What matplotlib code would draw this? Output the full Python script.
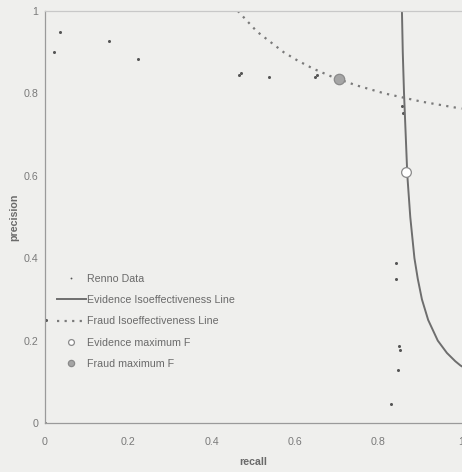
import matplotlib
matplotlib.use("Agg")
import matplotlib.pyplot as plt
import numpy as np

plt.rcParams['font.family'] = ['Liberation Sans', 'DejaVu Sans']

# Renno data (recall, precision)
renno_recall = [0.022, 0.036, 0.154, 0.224, 0.466, 0.470, 0.538, 0.648, 0.654,
                0.856, 0.859, 0.842, 0.843, 0.849, 0.852, 0.847, 0.830, 0.002, 0.0]
renno_precision = [0.901, 0.949, 0.927, 0.883, 0.845, 0.850, 0.839, 0.840, 0.845,
                   0.770, 0.752, 0.389, 0.350, 0.186, 0.177, 0.128, 0.046, 0.251, 0.0]

# isoeffectiveness curves
evid_recall = [0.857, 0.859, 0.862, 0.866, 0.870, 0.877, 0.887, 0.895, 0.905,
               0.920, 0.943, 0.965, 0.985, 0.997, 1.0]
evid_precision = [1.0, 0.9, 0.8, 0.7, 0.6, 0.5, 0.4, 0.35, 0.3,
                  0.25, 0.2, 0.17, 0.15, 0.14, 0.138]
fraud_recall = [0.463, 0.509, 0.573, 0.606, 0.644, 0.690, 0.746, 0.815, 0.904, 1.0]
fraud_precision = [1.0, 0.95, 0.9, 0.88, 0.86, 0.84, 0.82, 0.80, 0.78, 0.763]

# maximum F points
evid_max = (0.866, 0.61)
fraud_max = (0.705, 0.835)

ticks = [0, 0.2, 0.4, 0.6, 0.8, 1]
tick_labels = ['0', '0.2', '0.4', '0.6', '0.8', '1']

bg = '#efefed'
grey = '#6e6e6e'
fig = plt.figure(figsize=(4.62, 4.72), dpi=100, facecolor=bg)
ax = fig.add_axes([45 / 462, 49 / 472, 416.5 / 462, 412 / 472], facecolor=bg)

ax.plot(renno_recall, renno_precision, ls='none', marker='o', ms=2.2,
        color='#555555', mew=0, label='Renno Data')
ax.plot(evid_recall, evid_precision, color=grey, lw=1.4,
        label='Evidence Isoeffectiveness Line')
ax.plot(fraud_recall, fraud_precision, color='#7a7a7a', lw=1.6,
        ls=(0, (1, 2.4)), label='Fraud Isoeffectiveness Line')
ax.plot([evid_max[0]], [evid_max[1]], ls='none', marker='o', ms=7,
        mfc='white', mec='#8a8a8a', mew=0.9, label='Evidence maximum F')
ax.plot([fraud_max[0]], [fraud_max[1]], ls='none', marker='o', ms=7.5,
        mfc='#a5a5a5', mec='#8a8a8a', mew=0.9, label='Fraud maximum F')

ax.set_xlim(0, 1)
ax.set_ylim(0, 1)
ax.set_xticks(ticks)
ax.set_xticklabels(tick_labels)
ax.set_yticks(ticks)
ax.set_yticklabels(tick_labels)
ax.tick_params(length=0, labelsize=7.7, colors='#7a7a7a')
ax.tick_params(axis='x', pad=10)
ax.tick_params(axis='y', pad=5)

for s in ['left', 'bottom']:
    ax.spines[s].set_color('#9a9a9a')
    ax.spines[s].set_linewidth(0.9)
ax.spines['top'].set_color('#c8c8c8')
ax.spines['top'].set_linewidth(0.9)
ax.spines['right'].set_visible(False)

ax.set_xlabel('recall', fontsize=7.7, fontweight='bold', color='#6a6a6a', labelpad=7)
ax.set_ylabel('precision', fontsize=7.7, fontweight='bold', color='#6a6a6a', labelpad=3)

leg = ax.legend(loc='upper left', bbox_to_anchor=(0.005, 0.385), frameon=False,
                fontsize=7.7, handlelength=2.7, handletextpad=0.1,
                labelspacing=1.05, labelcolor='#6a6a6a', markerscale=0.6)

fig.savefig('out.png', dpi=100, facecolor=bg)
